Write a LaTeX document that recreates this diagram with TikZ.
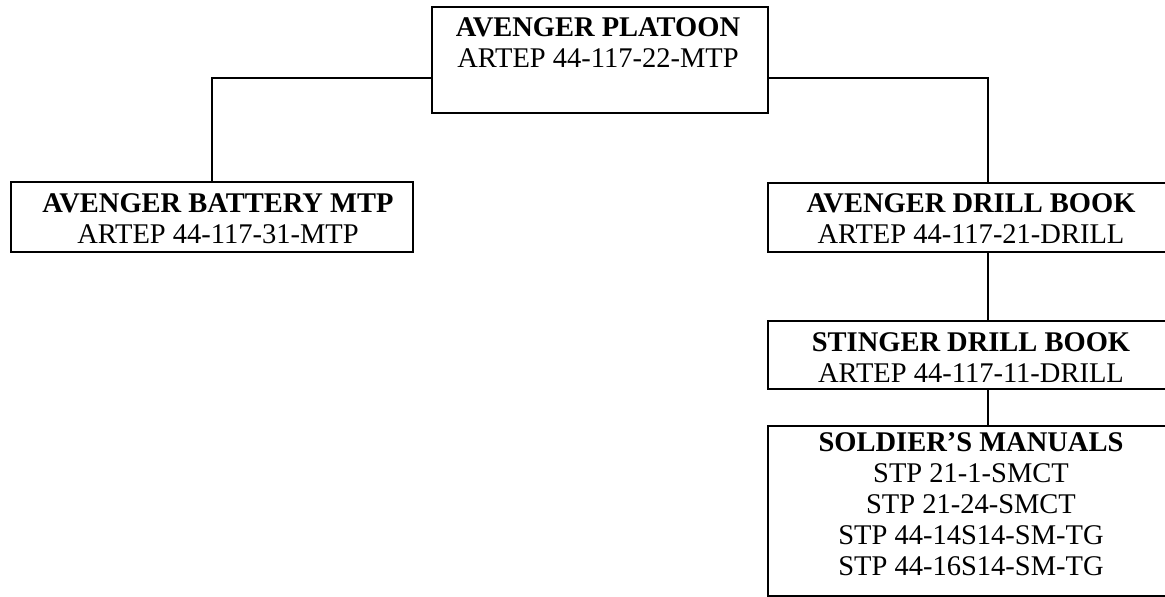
\documentclass[tikz,border=0pt]{standalone}
\usepackage{fontspec}
\setmainfont{Liberation Serif}
\begin{document}
\begin{tikzpicture}[x=1bp,y=-1bp]
\tikzset{
  frame/.style={draw, line width=2.2bp, inner sep=0pt, outer sep=0pt},
  txt/.style={inner sep=0pt, align=center, anchor=north, font=\fontsize{28.5bp}{31bp}\selectfont},
  link/.style={line width=2.2bp}
}
\useasboundingbox (0,0) rectangle (1165,597);
\node[frame, minimum width=336bp, minimum height=106bp] (top) at (600,60) {};
\node[txt] (topt) at (598,17) {\textbf{AVENGER PLATOON}\\ARTEP 44-117-22-MTP};
\node[frame, minimum width=402bp, minimum height=70bp] (left) at (212,217) {};
\node[txt] (leftt) at (218,193) {\textbf{AVENGER BATTERY MTP}\\ARTEP 44-117-31-MTP};
\node[frame, minimum width=440bp, minimum height=69bp] (drill) at (988,217.5) {};
\node[txt] (drillt) at (971,193) {\textbf{AVENGER DRILL BOOK}\\ARTEP 44-117-21-DRILL};
\node[frame, minimum width=440bp, minimum height=68bp] (sting) at (988,355) {};
\node[txt] (stingt) at (971,332) {\textbf{STINGER DRILL BOOK}\\ARTEP 44-117-11-DRILL};
\node[frame, minimum width=440bp, minimum height=170bp] (sold) at (988,511) {};
\node[txt] (soldt) at (971,432) {\textbf{SOLDIER’S MANUALS}\\STP 21-1-SMCT\\STP 21-24-SMCT\\STP 44-14S14-SM-TG\\STP 44-16S14-SM-TG};
\draw[link] ([yshift=-18bp]top.west) -| (left.north);
\draw[link] ([yshift=-18bp]top.east) -| (drill.north);
\draw[link] (drill.south) -- (sting.north);
\draw[link] (sting.south) -- (sold.north);
\end{tikzpicture}
\end{document}
